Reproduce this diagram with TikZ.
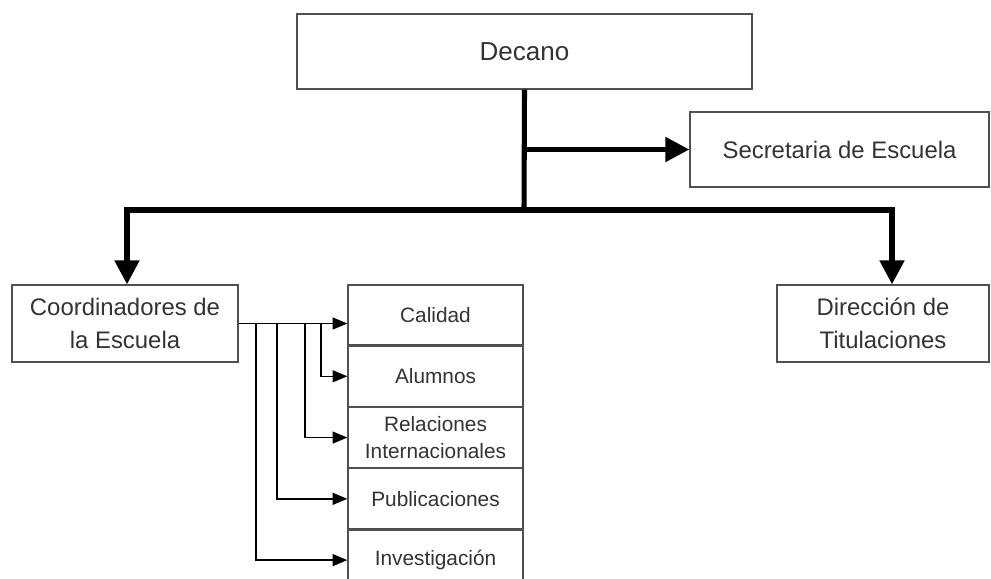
\documentclass[tikz,border=0pt]{standalone}
\usepackage{fontspec}
\setmainfont{Liberation Sans}
\usetikzlibrary{arrows.meta,positioning}
\definecolor{txtgray}{HTML}{333333}
\definecolor{boxgray}{HTML}{505050}
\tikzset{
  caja/.style={draw=boxgray, line width=0.9pt, fill=white, text=txtgray, align=center, inner sep=0pt},
  cajasub/.style={caja, minimum width=4.375cm, minimum height=1.5cm, font=\fontsize{14.8}{19}\selectfont},
  grueso/.style={line width=3.6pt, -{Triangle[length=17pt,width=17pt]}},
  fino/.style={line width=1.1pt, -{Triangle[length=10.5pt,width=8.5pt]}}
}
\begin{document}
\begin{tikzpicture}[x=0.025cm, y=-0.025cm, font=\fontsize{17}{23.5}\selectfont, line join=miter]
  \useasboundingbox (0,0) rectangle (991,578);
  \node[caja, minimum width=11.375cm, minimum height=1.875cm, font=\fontsize{18.5}{23}\selectfont] (decano) at (524.5,51.5) {Decano};
  \node[caja, minimum width=7.475cm, minimum height=1.875cm] (secre) at (839.5,149.5) {Secretaria de Escuela};
  \node[caja, minimum width=5.65cm, minimum height=1.925cm] (coord) at (125,323.5) {Coordinadores de\\la Escuela};
  \node[caja, minimum width=5.3cm, minimum height=1.925cm] (direc) at (883,323.5) {Dirección de\\Titulaciones};
  % bloque de coordinadores
  \node[cajasub] (calidad) at (435.5,315) {Calidad};
  \node[cajasub, below=0pt of calidad] (alumnos) {Alumnos};
  \node[cajasub, below=0pt of alumnos] (relac) {Relaciones\\Internacionales};
  \node[cajasub, below=0pt of relac] (public) {Publicaciones};
  \node[cajasub, below=0pt of public] (invest) {Investigación};
  \path (524,210) coordinate (T)
        (127,210) coordinate (L)
        (892,210) coordinate (R);
  \draw[line width=3.6pt] (decano.south) -- (T);
  \draw[grueso] (decano.south |- secre.west) -- (secre.west);
  \draw[grueso, line cap=rect] (T) -- (L) -- (L |- coord.north);
  \draw[grueso, line cap=rect] (T) -- (R) -- (R |- direc.north);
  \draw[fino] (coord.east) -- (calidad.west |- coord.east);
  \foreach \n/\x in {alumnos/321, relac/305, public/277, invest/256}
    \draw[fino] (\x,0 |- coord.east) |- (\n.west);
\end{tikzpicture}
\end{document}
